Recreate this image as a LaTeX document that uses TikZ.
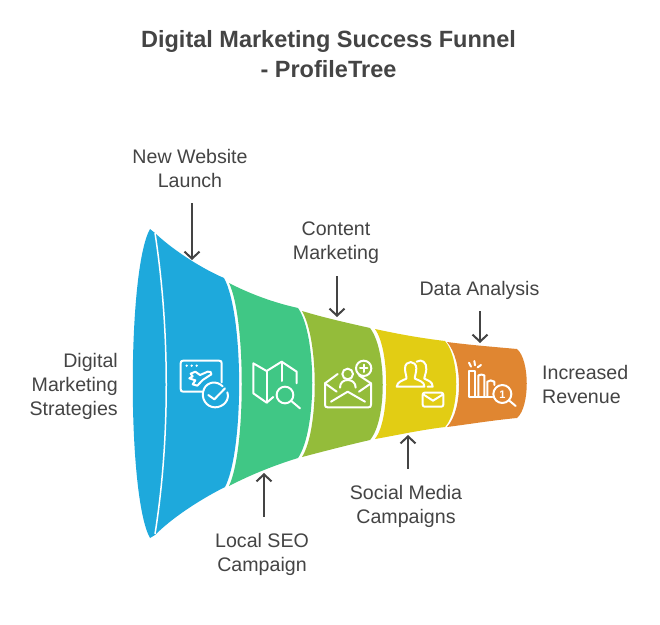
\documentclass[tikz,border=0pt]{standalone}
\usepackage{fontspec}
\setmainfont{Liberation Sans}
\usetikzlibrary{arrows.meta}
\definecolor{cblue}{HTML}{1EA9DC}
\definecolor{cgreen}{HTML}{40C785}
\definecolor{colive}{HTML}{94BC3A}
\definecolor{cyellow}{HTML}{E2CD14}
\definecolor{corange}{HTML}{E08631}
\definecolor{ctext}{HTML}{444444}
\tikzset{
  lbl/.style={text=ctext,font=\fontsize{19.6}{24}\selectfont,inner sep=0pt,align=center},
  ttl/.style={text=ctext,font=\fontsize{23.5}{30}\selectfont\bfseries,inner sep=0pt,align=center},
  conn/.style={draw=ctext,line width=2pt,-{Straight Barb[length=7pt,width=15pt,line width=2pt]}},
  icn/.style={draw=white,line width=2pt,line cap=round,line join=round},
  zoomed/.style={x=0.3333pt,y=-0.3333pt}
}
\begin{document}
\begin{tikzpicture}[x=1pt,y=-1pt]
\useasboundingbox (0,0) rectangle (660,624);
\fill[white] (0,0) rectangle (660,624);
\node[ttl] (title) at (328.5,54.5) {Digital Marketing Success Funnel\\- ProfileTree};
% funnel
\fill[corange] (447,342) .. controls (470,345) and (495,347) .. (517,349)
  .. controls (530,360) and (530,407) .. (517,418)
  .. controls (495,420) and (470,424) .. (447,427)
  .. controls (463,410) and (463,360) .. (447,342) -- cycle;
\fill[cyellow] (375,329) .. controls (398,334) and (420,338) .. (445,341)
  .. controls (460,358) and (460,410) .. (445,427)
  .. controls (420,430) and (398,435) .. (375,439)
  .. controls (390,420) and (390,350) .. (375,329) -- cycle;
\fill[colive] (302,311) .. controls (325,318) and (348,323) .. (370,328)
  .. controls (387,350) and (387,420) .. (370,440)
  .. controls (348,445) and (325,451) .. (302,457)
  .. controls (319,430) and (319,340) .. (302,311) -- cycle;
\fill[cgreen] (229,283) .. controls (250,294) and (275,303) .. (298,308)
  .. controls (317,335) and (317,430) .. (298,458)
  .. controls (275,465) and (250,475) .. (229,486)
  .. controls (246,450) and (246,318) .. (229,283) -- cycle;
\fill[cblue] (150,229) .. controls (127,270) and (127,497) .. (150,538)
  -- (155,535) .. controls (175,515) and (205,497) .. (225,487)
  .. controls (244,450) and (244,315) .. (224,278)
  .. controls (205,270) and (175,252) .. (155,233) -- cycle;
\draw[white,line width=1.5pt] (155,233) .. controls (170,330) and (170,440) .. (155,534);
% icon 1
\begin{scope}[shift={(170,345)},zoomed]
\draw[icn] (98,140) -- (40,140) .. controls (34,140) and (32,138) .. (32,132) -- (32,55)
  .. controls (32,49) and (34,47) .. (40,47) -- (147,47) .. controls (153,47) and (155,49) .. (155,55) -- (155,112);
\fill[white] (50,62) circle (4) (65,62) circle (4) (80,62) circle (4);
\draw[icn] (62,86) -- (76,80) -- (90,90) -- (113,80) .. controls (120,78) and (126,82) .. (124,88)
  -- (98,105) -- (82,122) -- (68,118) -- (76,106) -- (58,100) -- (68,94) -- cycle;
\draw[icn] (158,124) .. controls (140,106) and (112,110) .. (102,132) .. controls (90,160) and (110,187) .. (135,187)
  .. controls (160,187) and (180,165) .. (172,142);
\draw[icn] (115,150) -- (133,163) -- (165,130);
\end{scope}
% icon 2
\begin{scope}[shift={(170,345)},zoomed]
\draw[icn] (310,156) -- (290,173) -- (250,145) -- (250,55) -- (290,78) -- (335,50) -- (380,80) -- (380,115);
\draw[icn] (290,78) -- (290,173) (335,50) -- (335,108);
\draw[icn] (345,150) circle (25);
\draw[icn] (364,168) -- (390,190);
\end{scope}
% icon 3
\begin{scope}[shift={(315,350)},zoomed]
\draw[icn] (68,72) -- (30,100) -- (30,164) .. controls (30,170) and (32,172) .. (38,172) -- (160,172)
  .. controls (166,172) and (168,170) .. (168,164) -- (168,100) -- (132,76);
\draw[icn] (30,100) -- (65,125) (168,100) -- (132,125);
\draw[icn] (48,155) -- (98,125) -- (150,155);
\draw[icn] (98,72) circle (16);
\draw[icn] (75,113) .. controls (75,98) and (85,90) .. (98,90) .. controls (111,90) and (122,98) .. (122,113);
\draw[icn] (146,55) circle (23);
\draw[icn] (135,55) -- (157,55) (146,44) -- (146,66);
\end{scope}
% icon 4
\begin{scope}[shift={(315,350)},zoomed]
\draw[icn] (245,110) -- (328,110) .. controls (329,95) and (312,92) .. (300,86) .. controls (298,80) and (304,70) .. (304,55)
  .. controls (304,30) and (270,30) .. (270,55) .. controls (270,70) and (276,80) .. (274,86)
  .. controls (262,92) and (247,95) .. (245,110) -- cycle;
\draw[icn] (305,35) .. controls (320,25) and (336,38) .. (334,58) .. controls (333,70) and (328,80) .. (328,86)
  .. controls (340,92) and (353,95) .. (353,110) -- (338,110);
\draw[icn,rounded corners=2pt] (323,128) rectangle (385,170);
\draw[icn] (326,134) -- (354,152) -- (383,134);
\end{scope}
% icon 5
\begin{scope}[shift={(455,350)},zoomed]
\draw[icn] (43,140) -- (43,62) -- (60,62) -- (60,140);
\draw[icn] (70,140) -- (70,76) .. controls (75,73) and (84,73) .. (88,76) -- (88,140);
\draw[icn] (97,140) -- (97,95) .. controls (102,90) and (112,90) .. (118,95) -- (118,105);
\draw[icn] (43,140) -- (112,140);
\draw[icn] (142,132) circle (27);
\draw[icn] (163,152) -- (182,168);
\draw[icn] (42,38) -- (48,50) (58,33) -- (60,46) (78,45) -- (68,52);
\node[text=white,font=\fontsize{11}{11}\selectfont\bfseries,inner sep=0pt] (one) at (142,133) {1};
\end{scope}
% labels
\node[lbl] (website) at (190,168) {New Website\\Launch};
\node[lbl,align=right,anchor=east] (digital) at (118,386) {Digital\\Marketing\\Strategies};
\node[lbl] (seo) at (262,554) {Local SEO\\Campaign};
\node[lbl] (content) at (336,243) {Content\\Marketing};
\node[lbl] (social) at (406,506) {Social Media\\Campaigns};
\node[lbl] (data) at (479.5,290) {Data Analysis};
\node[lbl,align=left,anchor=west] (revenue) at (542,384) {Increased\\Revenue};
% connectors
\coordinate (t1) at (192,260);
\coordinate (t2) at (264,473);
\coordinate (t3) at (337,317);
\coordinate (t4) at (408,435);
\coordinate (t5) at (480,343);
\path (website.south -| t1) ++(0,16) coordinate (s1);
\draw[conn] (s1) -- (t1);
\path (seo.north -| t2) ++(0,-16) coordinate (s2);
\draw[conn] (s2) -- (t2);
\path (content.south -| t3) ++(0,12) coordinate (s3);
\draw[conn] (s3) -- (t3);
\path (social.north -| t4) ++(0,-16) coordinate (s4);
\draw[conn] (s4) -- (t4);
\path (data.south -| t5) ++(0,12) coordinate (s5);
\draw[conn] (s5) -- (t5);
\end{tikzpicture}
\end{document}
